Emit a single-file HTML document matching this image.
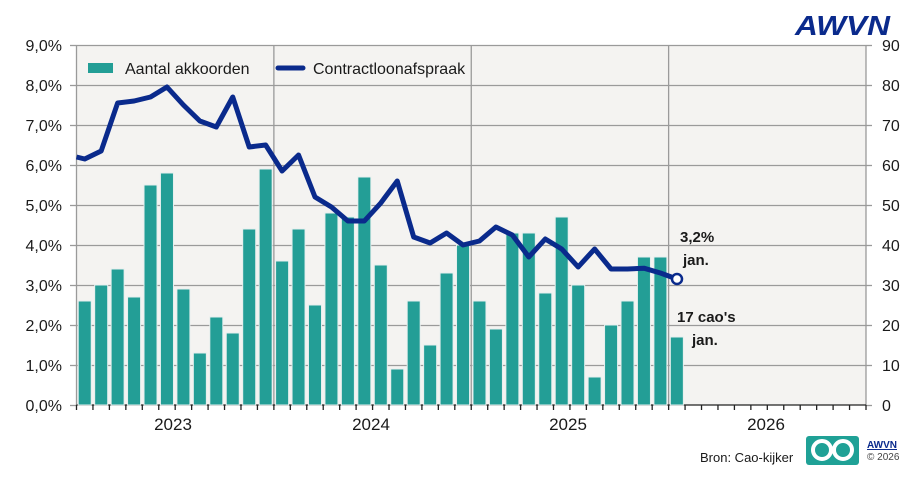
<!DOCTYPE html>
<html><head><meta charset="utf-8"><style>
html,body{margin:0;padding:0;background:#fff;width:917px;height:498px;overflow:hidden}
svg{display:block;font-family:"Liberation Sans","DejaVu Sans",sans-serif}
</style></head><body>
<svg id="s" width="917" height="498" xmlns="http://www.w3.org/2000/svg">
<rect x="76.5" y="45.5" width="789.5" height="360" fill="#f4f3f1"/>
<g id="grid" stroke="#9a9a9a" stroke-width="1.3"></g>
<g id="bars" fill="#239e96" stroke="#e6efee" stroke-width="1"></g>
<polyline id="ln" fill="none" stroke="#0a2a8c" stroke-width="5" stroke-linejoin="round"/>
<circle cx="677" cy="279" r="5" fill="#fff" stroke="#0a2a8c" stroke-width="2.5"/>
<g font-size="16" fill="#1a1a1a" text-anchor="end">
<text x="62" y="51">9,0%</text><text x="62" y="91">8,0%</text><text x="62" y="131">7,0%</text><text x="62" y="171">6,0%</text><text x="62" y="211">5,0%</text><text x="62" y="251">4,0%</text><text x="62" y="291">3,0%</text><text x="62" y="331">2,0%</text><text x="62" y="371">1,0%</text><text x="62" y="411">0,0%</text>
</g>
<g font-size="16" fill="#1a1a1a" text-anchor="start">
<text x="882" y="51">90</text><text x="882" y="91">80</text><text x="882" y="131">70</text><text x="882" y="171">60</text><text x="882" y="211">50</text><text x="882" y="251">40</text><text x="882" y="291">30</text><text x="882" y="331">20</text><text x="882" y="371">10</text><text x="882" y="411">0</text>
</g>
<g font-size="17" fill="#1a1a1a" text-anchor="middle">
<text x="173" y="430">2023</text><text x="371" y="430">2024</text><text x="568" y="430">2025</text><text x="766" y="430">2026</text>
</g>
<rect x="88" y="63" width="25" height="10" fill="#239e96"/>
<text x="125" y="74" font-size="16" fill="#1a1a1a">Aantal akkoorden</text>
<line x1="278" y1="68" x2="303" y2="68" stroke="#0a2a8c" stroke-width="5" stroke-linecap="round"/>
<text x="313" y="74" font-size="16" fill="#1a1a1a">Contractloonafspraak</text>
<g font-size="15" font-weight="bold" fill="#1a1a1a">
<text x="680" y="242">3,2%</text><text x="683" y="265">jan.</text>
<text x="677" y="322">17 cao's</text><text x="692" y="345">jan.</text>
</g>
<text x="795" y="35" font-size="28" font-weight="bold" font-style="italic" fill="#0a2a8c" textLength="95" lengthAdjust="spacingAndGlyphs">AWVN</text>
<text x="700" y="462" font-size="13" fill="#1a1a1a">Bron: Cao-kijker</text>
<rect x="806" y="436" width="53" height="29" rx="3" fill="#1fa196"/>
<circle cx="822" cy="450" r="9" fill="none" stroke="#fff" stroke-width="4"/>
<circle cx="843" cy="450" r="9" fill="none" stroke="#fff" stroke-width="4"/>
<text x="867" y="448" font-size="10" font-weight="bold" fill="#0a2a8c" text-decoration="underline">AWVN</text>
<text x="867" y="460" font-size="10" fill="#444">© 2026</text>
</svg>
<script>
var ns="http://www.w3.org/2000/svg",L=76.5,R=866,T=45.5,B=405,w=(R-L)/48;
function el(p,t,a){var e=document.createElementNS(ns,t);for(var k in a)e.setAttribute(k,a[k]);document.getElementById(p).appendChild(e);}
for(var i=1;i<9;i++)el("grid","line",{x1:L,x2:R,y1:T+i*40,y2:T+i*40});
el("grid","line",{x1:L,x2:R,y1:T,y2:T});
[L,L+12*w,L+24*w,L+36*w,R].forEach(function(x){el("grid","line",{x1:x,x2:x,y1:T,y2:B});});
for(var i=0;i<10;i++){el("grid","line",{x1:70,x2:L,y1:T+i*40,y2:T+i*40});el("grid","line",{x1:R,x2:R+6,y1:T+i*40,y2:T+i*40});}
el("grid","line",{x1:L,x2:R,y1:B,y2:B,stroke:"#222"});
for(var i=0;i<=48;i++)el("grid","line",{x1:L+i*w,x2:L+i*w,y1:B,y2:B+5,stroke:"#222"});
var b=[26,30,34,27,55,58,29,13,22,18,44,59,36,44,25,48,47,57,35,9,26,15,33,40,26,19,43,43,28,47,30,7,20,26,37,37,17];
b.forEach(function(v,i){var c=L+w*(i+.5);el("bars","rect",{x:c-6.5,y:B-v*4,width:13,height:v*4});});
var l=[6.15,6.35,7.55,7.6,7.7,7.95,7.5,7.1,6.95,7.7,6.45,6.5,5.85,6.25,5.2,4.95,4.6,4.6,5.05,5.6,4.2,4.05,4.3,4.0,4.1,4.45,4.25,3.7,4.15,3.9,3.45,3.9,3.4,3.4,3.42,3.3,3.15];
var pts=[L+","+(B-6.2*40)];l.forEach(function(v,i){pts.push((L+w*(i+.5))+","+(B-v*40));});
document.getElementById("ln").setAttribute("points",pts.join(" "));
</script>
</body></html>
